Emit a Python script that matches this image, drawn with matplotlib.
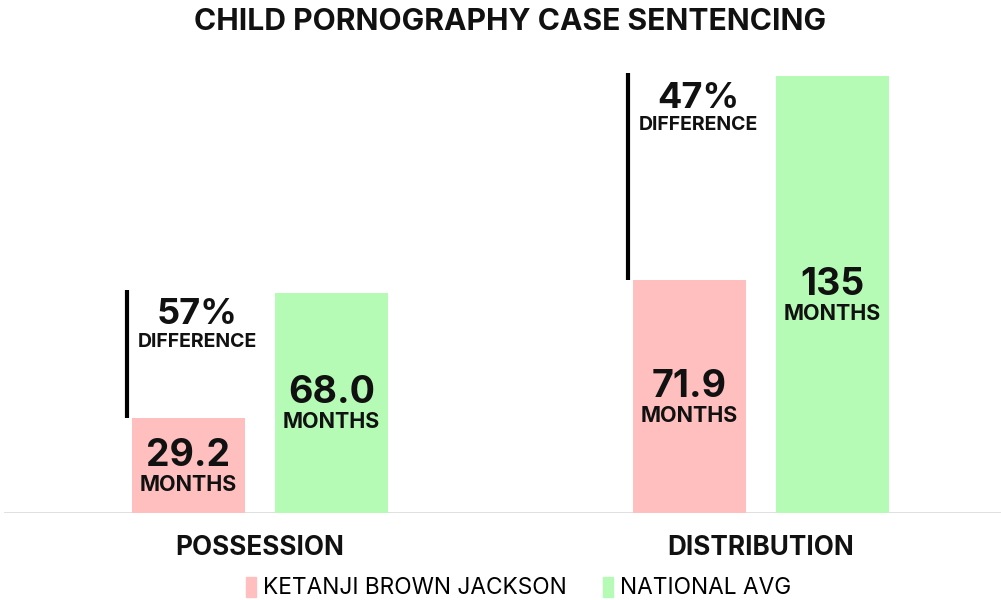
import matplotlib
matplotlib.use("Agg")
import matplotlib.pyplot as plt
from matplotlib.patches import Patch

categories = ["POSSESSION", "DISTRIBUTION"]
series_names = ["KETANJI BROWN JACKSON", "NATIONAL AVG"]
jackson = [29.2, 71.9]
national = [68.0, 135]
jackson_labels = ["29.2", "71.9"]
national_labels = ["68.0", "135"]
diff_labels = ["57%", "47%"]

PINK = "#FFBFBF"
GREEN = "#B5FBB5"
MAIN = ["Inter", "DejaVu Sans"]

fig = plt.figure(figsize=(10.01, 6.0), dpi=100)
W, H = 1001, 600
base_y = 513
ax = fig.add_axes([0, (H - base_y) / H, 1, 485.6 / H])
ax.set_xlim(-260 / 501, (W - 260) / 501)
ax.set_ylim(0, 150)
ax.axis("off")

width = 113 / 501
off = 71.5 / 501
xs = list(range(len(categories)))

ax.bar([x - off for x in xs], jackson, width, color=PINK, zorder=2)
ax.bar([x + off for x in xs], national, width, color=GREEN, zorder=2)
ax.axhline(0, color="#dddddd", lw=2, xmin=5 / W, zorder=1)

for i, x in enumerate(xs):
    for xc, v, lab in ((x - off, jackson[i], jackson_labels[i]),
                       (x + off, national[i], national_labels[i])):
        ax.annotate(lab, (xc, v / 2), xytext=(0, 7), textcoords="offset points",
                    ha="center", va="center", fontsize=27, fontweight="bold",
                    family=MAIN, color="#111111")
        ax.annotate("MONTHS", (xc, v / 2), xytext=(0, -14), textcoords="offset points",
                    ha="center", va="center", fontsize=15.5, fontweight="bold",
                    family=MAIN, color="#111111")
    lx = x - off - width / 2 - 5 / 501
    ax.plot([lx, lx], [jackson[i], national[i] + 1.0], color="black", lw=3,
            solid_capstyle="butt", zorder=3)
    tx = x - off + 9 / 501
    ax.annotate(diff_labels[i], (tx, national[i]), xytext=(0, -4), textcoords="offset points",
                ha="center", va="top", fontsize=26, fontweight="bold",
                family=MAIN, color="#111111")
    ax.annotate("DIFFERENCE", (tx, national[i]), xytext=(0, -29), textcoords="offset points",
                ha="center", va="top", fontsize=14, fontweight="bold",
                family=MAIN, color="#111111")
    ax.annotate(categories[i], (x, 0), xytext=(0, -25), textcoords="offset points",
                ha="center", va="center", fontsize=18.8, fontweight="bold",
                family=MAIN, color="#111111")

fig.text(0.51, 1 - 22 / H, "CHILD PORNOGRAPHY CASE SENTENCING", ha="center", va="center",
         fontsize=21.7, fontweight="bold", family=MAIN, color="#111111")

handles = [Patch(color=PINK), Patch(color=GREEN)]
fig.legend(handles, series_names, loc="center", bbox_to_anchor=(0.518, 1 - 588 / H),
           ncol=2, frameon=False, prop={"family": MAIN, "size": 16.3},
           handlelength=0.45, handleheight=1.0, handletextpad=0.3, columnspacing=1.6,
           borderpad=0.1)

fig.savefig("out.png", dpi=100)
